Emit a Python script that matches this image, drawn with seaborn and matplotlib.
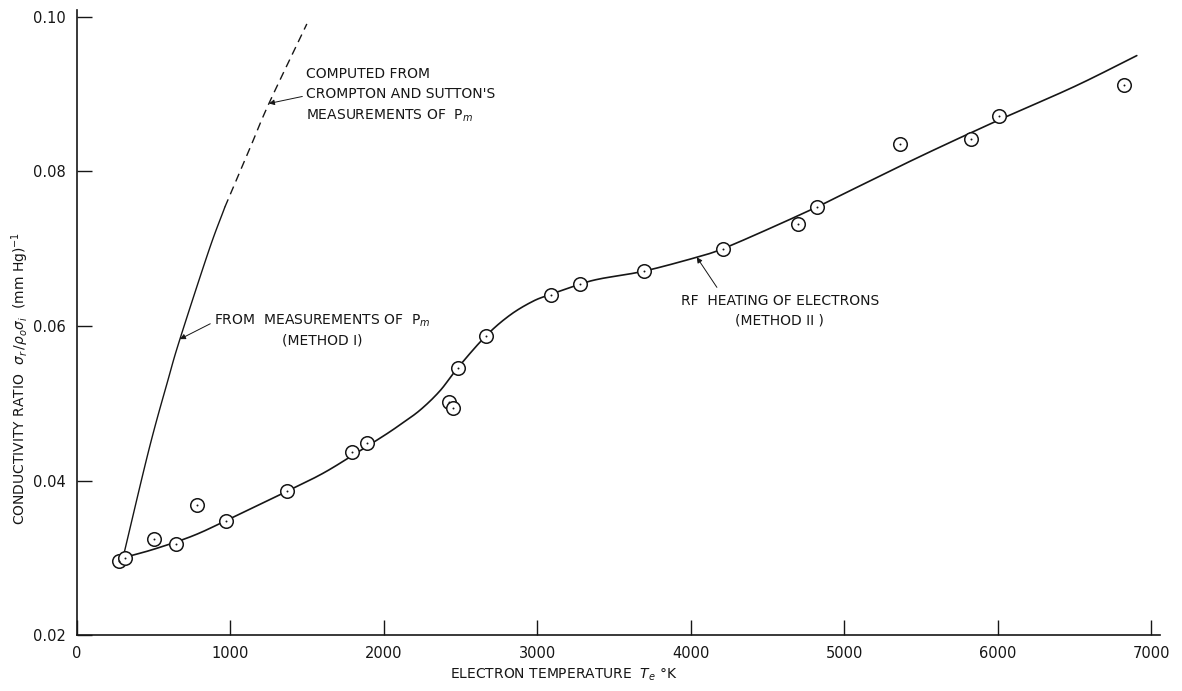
import matplotlib
matplotlib.use("Agg")
import matplotlib.pyplot as plt
import seaborn as sns
import pandas as pd
import numpy as np

# Measured points (RF heating, method II)
temp_pts = [274, 313, 502, 643, 780, 971, 1368, 1791, 1889, 2423, 2450, 2482, 2664,
            3088, 3277, 3694, 4208, 4697, 4821, 5362, 5824, 6006, 6821]
ratio_pts = [0.0296, 0.0300, 0.0324, 0.0318, 0.0368, 0.0348, 0.0386, 0.0437, 0.0449,
             0.0502, 0.0494, 0.0546, 0.0587, 0.0640, 0.0654, 0.0671, 0.0700, 0.0732,
             0.0754, 0.0836, 0.0842, 0.0872, 0.0912]

# Fitted curve (method II)
curve2_t = [300, 500, 750, 971, 1368, 1600, 1800, 2000, 2104, 2235, 2365, 2482, 2664,
            2821, 2971, 3088, 3277, 3407, 3694, 4039, 4208, 4500, 4821, 5036, 5500,
            6000, 6500, 6906]
curve2_r = [0.0300, 0.0311, 0.0328, 0.0348, 0.0386, 0.0409, 0.0433, 0.0458, 0.0472,
            0.0491, 0.0516, 0.0546, 0.0587, 0.0614, 0.0632, 0.0641, 0.0654, 0.0661,
            0.0671, 0.0689, 0.0700, 0.0725, 0.0754, 0.0775, 0.0820, 0.0866, 0.0910,
            0.0950]

# Method I (solid) and Crompton & Sutton (dashed)
curve1_t = [300, 469, 593, 671, 860, 964]
curve1_r = [0.0300, 0.0440, 0.0530, 0.0583, 0.0698, 0.0754]
curve_cs_t = [964, 1131, 1251, 1498]
curve_cs_r = [0.0754, 0.0832, 0.0888, 0.0991]

x_ticks = [0, 1000, 2000, 3000, 4000, 5000, 6000, 7000]
y_ticks = [0.02, 0.04, 0.06, 0.08, 0.10]


def smooth(xs, ys, n=20):
    """Catmull-Rom rendering through the read points (drawing only)."""
    p = np.column_stack([xs, ys]).astype(float)
    p = np.vstack([2 * p[0] - p[1], p, 2 * p[-1] - p[-2]])
    out = []
    t = np.linspace(0, 1, n, endpoint=False)[:, None]
    for i in range(1, len(p) - 2):
        p0, p1, p2, p3 = p[i - 1], p[i], p[i + 1], p[i + 2]
        seg = 0.5 * ((2 * p1) + (-p0 + p2) * t + (2 * p0 - 5 * p1 + 4 * p2 - p3) * t ** 2
                     + (-p0 + 3 * p1 - 3 * p2 + p3) * t ** 3)
        out.append(seg)
    out.append(p[-2][None, :])
    a = np.vstack(out)
    return a[:, 0], a[:, 1]


sns.set_style("ticks")
plt.rcParams['font.family'] = ['DejaVu Sans']
plt.rcParams['mathtext.fontset'] = 'dejavusans'

fig = plt.figure(figsize=(11.82, 6.91), dpi=100)
ax = fig.add_axes([0.0651, 0.081, 0.916, 0.9045])

ink = "#161616"
sx, sy = smooth(curve2_t, curve2_r)
sns.lineplot(x=sx, y=sy, ax=ax, color=ink, lw=1.2, estimator=None, sort=False)
sx1, sy1 = smooth(curve1_t, curve1_r)
sns.lineplot(x=sx1, y=sy1, ax=ax, color=ink, lw=1.0, estimator=None, sort=False)
sx2, sy2 = smooth(curve_cs_t, curve_cs_r)
ax.plot(sx2, sy2, color=ink, lw=1.0, ls=(0, (6, 4)))

df = pd.DataFrame({"t": temp_pts, "r": ratio_pts})
sns.scatterplot(data=df, x="t", y="r", ax=ax, s=95, facecolor="white",
                edgecolor=ink, linewidth=1.1, zorder=3)
sns.scatterplot(data=df, x="t", y="r", ax=ax, s=2, color=ink, linewidth=0, zorder=4)

ax.set_xlim(0, 7055)
ax.set_ylim(0.02, 0.1009)
ax.set_xticks(x_ticks)
ax.set_xticklabels([str(v) for v in x_ticks])
ax.set_yticks(y_ticks)
ax.set_yticklabels([f"{v:.2f}" for v in y_ticks])
ax.tick_params(direction="in", length=11, width=1, labelsize=10.5, colors=ink, pad=8)
for s in ["top", "right"]:
    ax.spines[s].set_visible(False)
for s in ["left", "bottom"]:
    ax.spines[s].set_linewidth(1.2)
    ax.spines[s].set_color(ink)

ax.set_xlabel("ELECTRON TEMPERATURE  $T_e$ °K", fontsize=10, color=ink)
ax.set_ylabel("CONDUCTIVITY RATIO  $\\sigma_r\\,/\\rho_o\\sigma_i$  (mm Hg)$^{-1}$",
              fontsize=10, color=ink)
ax.xaxis.set_label_coords(0.45, -0.05)
ax.yaxis.set_label_coords(-0.042, 0.41)

fs = 10
arrow = dict(arrowstyle="-|>", color=ink, lw=0.7, mutation_scale=8, shrinkA=0, shrinkB=0)
ax.annotate("COMPUTED FROM\nCROMPTON AND SUTTON'S\nMEASUREMENTS OF  P$_m$",
            xy=(1251, 0.0888), xytext=(1490, 0.0898), fontsize=fs, color=ink,
            ha="left", va="center", linespacing=1.55,
            arrowprops=dict(arrow, relpos=(0, 0.5)))
ax.annotate("FROM  MEASUREMENTS OF  P$_m$\n(METHOD I)",
            xy=(671, 0.0583), xytext=(890, 0.0595), fontsize=fs, color=ink,
            ha="left", va="center", linespacing=1.45, multialignment="center",
            arrowprops=dict(arrow, relpos=(0, 0.72)))
ax.annotate("", xy=(4039, 0.0689), xytext=(4170, 0.0650), arrowprops=arrow)
ax.text(4580, 0.0620, "RF  HEATING OF ELECTRONS\n(METHOD II )", fontsize=fs, color=ink,
        ha="center", va="center", linespacing=1.45, multialignment="center")

fig.savefig("out.png", dpi=100, facecolor="white")
